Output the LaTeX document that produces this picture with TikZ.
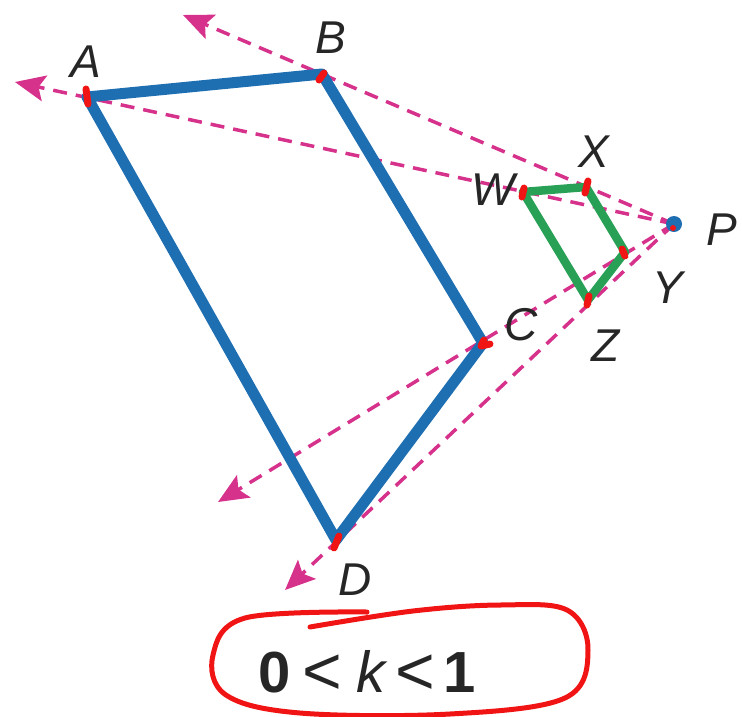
\documentclass[tikz,border=0pt]{standalone}
\usepackage{fontspec}
\setmainfont{Liberation Sans}
\usetikzlibrary{arrows.meta}
\definecolor{quadblue}{RGB}{30,110,178}
\definecolor{quadgreen}{RGB}{40,160,85}
\definecolor{raypink}{RGB}{214,50,140}
\definecolor{markred}{RGB}{240,20,20}
\tikzset{
  bigquad/.style={draw=quadblue, line width=11pt, line join=round, line cap=round},
  smallquad/.style={draw=quadgreen, line width=8.5pt, line join=round, line cap=round},
  ray/.style={draw=raypink, line width=3.5pt, dash pattern=on 14pt off 9pt, -{Stealth[length=30pt,width=26pt,inset=6pt]}},
  lbl/.style={font=\fontsize{46}{50}\selectfont\itshape, text=black!85, inner sep=0pt},
  redmark/.style={draw=markred, line width=7pt, line cap=round},
}
\newcommand{\lessbig}{{\fontsize{68}{70}\selectfont\raisebox{-2pt}{<}}}
\begin{document}
\begin{tikzpicture}[x=1pt,y=-1pt]
\useasboundingbox (0,0) rectangle (742,716);
% points
\coordinate (A) at (87,97);
\coordinate (B) at (322,74);
\coordinate (C) at (483,343);
\coordinate (D) at (336,540);
\coordinate (P) at (674,224);
\coordinate (W) at (523,192);
\coordinate (X) at (586,187);
\coordinate (Y) at (625,252);
\coordinate (Z) at (588,300);
\coordinate (Aend) at (15,82);
\coordinate (Bend) at (183,15);
\coordinate (Cend) at (218,502);
\coordinate (Dend) at (285,590);
% rays
\draw[ray] (P) -- (Aend);
\draw[ray] (P) -- (Bend);
\draw[ray] (P) -- (Cend);
\draw[ray] (P) -- (Dend);
% quadrilaterals
\draw[bigquad] (A) -- (B) -- (C) -- (D) -- cycle;
\draw[smallquad] (W) -- (X) -- (Y) -- (Z) -- cycle;
% center P
\fill[quadblue] (P) circle (8pt);
% labels
\node[lbl] (lA) at (86,62) {A};
\node[lbl] (lB) at (331,38) {B};
\node[lbl] (lX) at (594,152) {X};
\node[lbl] (lW) at (493,190) {W};
\node[lbl] (lP) at (722,230) {P};
\node[lbl] (lY) at (668,288) {Y};
\node[lbl] (lZ) at (606,346) {Z};
\node[lbl] (lC) at (521,325) {C};
\node[lbl] (lD) at (355,580) {D};
\node[inner sep=0pt, text=black!85, font=\fontsize{58}{60}\selectfont] (cond) at (367,672) {\textbf{0}\hspace{12pt}\lessbig\hspace{14pt}\textit{k}\hspace{8pt}\lessbig\hspace{8pt}\textbf{1}};
% red annotations
\draw[redmark] (86,89) -- (88,104);
\draw[redmark] (319,80) -- (324,73);
\draw[redmark] (481,346) -- (484,340) (481,346) -- (490,344);
\draw[redmark] (334,548) -- (339,536);
\draw[redmark] (522,197) -- (524,188);
\draw[redmark] (585,193) -- (588,181);
\draw[redmark] (622,249) -- (625,256);
\draw[redmark] (587,305) -- (589,296);
\fill[markred] (673,228) circle (3pt);
\draw[markred, line width=5pt, line cap=round] plot[smooth, tension=0.6] coordinates {(310,627) (413,611) (500,605) (567,610) (588,650) (565,698) (450,714) (300,713) (226,695) (213,655) (245,618) (367,612)};
\end{tikzpicture}
\end{document}
